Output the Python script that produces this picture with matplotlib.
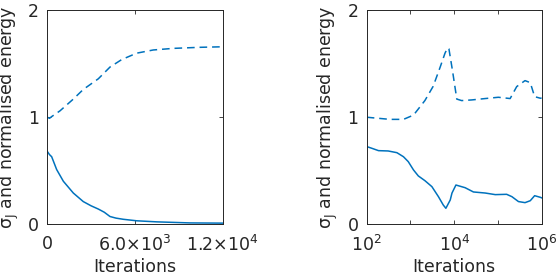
import matplotlib
matplotlib.use("Agg")
import matplotlib.pyplot as plt
from matplotlib.ticker import FixedLocator, FixedFormatter, NullLocator

# ---- data ----
left_x_solid = [0, 150, 300, 640, 1100, 1780, 2460, 3000, 3490, 3900, 4290, 4700, 5200, 6110, 7480, 9760, 12000]
left_y_solid = [0.68, 0.65, 0.63, 0.51, 0.40, 0.29, 0.21, 0.17, 0.14, 0.11, 0.07, 0.055, 0.044, 0.03, 0.02, 0.01, 0.008]

left_x_dash = [0, 150, 300, 870, 1780, 2460, 3490, 4290, 5090, 6110, 7250, 8620, 10450, 12000]
left_y_dash = [1.0, 0.99, 1.006, 1.06, 1.17, 1.26, 1.36, 1.47, 1.54, 1.60, 1.63, 1.645, 1.655, 1.66]

right_x_solid = [100, 129, 186, 309, 490, 692, 891, 1175, 1514, 2138, 3090, 4365, 5623, 6457, 8128, 8913,
                 10965, 17783, 27542, 51286, 87096, 158489, 208930, 295121, 416869, 549541, 691831,
                 933254, 1000000]
right_y_solid = [0.725, 0.71, 0.687, 0.684, 0.668, 0.63, 0.584, 0.506, 0.45, 0.406, 0.35, 0.256, 0.178,
                 0.147, 0.225, 0.29, 0.365, 0.34, 0.30, 0.29, 0.275, 0.278, 0.256, 0.21, 0.20, 0.218,
                 0.265, 0.25, 0.245]

right_x_dash = [100, 339, 692, 1175, 2138, 3311, 4786, 6166, 7079, 7586, 9120, 11482, 14791, 25119,
                51286, 102329, 190546, 269153, 416869, 549541, 691831, 933254, 1000000]
right_y_dash = [1.0, 0.98, 0.98, 1.02, 1.156, 1.29, 1.47, 1.60, 1.65, 1.64, 1.44, 1.17, 1.156, 1.162,
                1.175, 1.187, 1.175, 1.287, 1.343, 1.324, 1.193, 1.178, 1.18]

left_xticks = [0, 6000, 12000]
left_xticklabels = ["0", r"$6.0{\times}10^{3}$", r"$1.2{\times}10^{4}$"]
right_xticks = [1e2, 1e3, 1e4, 1e5, 1e6]
right_xticklabels = [r"$10^{2}$", "", r"$10^{4}$", "", r"$10^{6}$"]
yticks = [0, 1, 2]
ylabel = r"$\sigma_J$ and normalised energy"
xlabel = "Iterations"

# ---- style ----
plt.rcParams['font.family'] = ['DejaVu Sans']
plt.rcParams['mathtext.fontset'] = 'dejavusans'
plt.rcParams['mathtext.default'] = 'regular'
color = '#0072BD'
dark = '#262626'
lw = 1.1
dash = (0, (5.0, 3.2))

fig = plt.figure(figsize=(5.57, 2.75), dpi=100)
ax1 = fig.add_axes([0.0849, 0.1855, 0.3149, 0.7764])
ax2 = fig.add_axes([0.6584, 0.1855, 0.3140, 0.7764])

ax1.plot(left_x_solid, left_y_solid, color=color, lw=lw)
ax1.plot(left_x_dash, left_y_dash, color=color, lw=lw, ls=dash)
ax1.set_xlim(0, 12000)
ax1.xaxis.set_major_locator(FixedLocator(left_xticks))
ax1.xaxis.set_major_formatter(FixedFormatter(left_xticklabels))

ax2.plot(right_x_solid, right_y_solid, color=color, lw=lw)
ax2.plot(right_x_dash, right_y_dash, color=color, lw=lw, ls=dash)
ax2.set_xscale('log')
ax2.set_xlim(1e2, 1e6)
ax2.xaxis.set_major_locator(FixedLocator(right_xticks))
ax2.xaxis.set_major_formatter(FixedFormatter(right_xticklabels))
ax2.xaxis.set_minor_locator(NullLocator())

for ax in (ax1, ax2):
    ax.set_ylim(0, 2)
    ax.set_yticks(yticks)
    ax.set_yticklabels([str(v) for v in yticks])
    ax.tick_params(direction='in', length=2.8, width=0.6, color=dark, labelcolor=dark,
                   labelsize=12.5, top=True, right=True)
    ax.tick_params(axis='x', pad=8)
    ax.tick_params(axis='y', pad=6)
    for s in ax.spines.values():
        s.set_color(dark)
        s.set_linewidth(0.7)
    ax.set_xlabel(xlabel, fontsize=12.5, color=dark, labelpad=2)
    ax.set_ylabel(ylabel, fontsize=12.5, color=dark, labelpad=5)

fig.savefig("out.png", dpi=100)
